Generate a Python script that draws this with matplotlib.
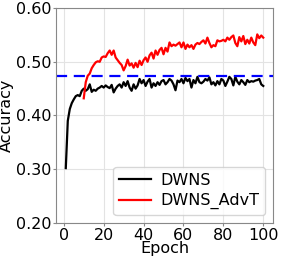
import numpy as np
import matplotlib
matplotlib.use("Agg")
import matplotlib.pyplot as plt

epochs = list(range(1, 101))
dwns = [0.302, 0.390, 0.412, 0.423, 0.430, 0.436, 0.438, 0.436, 0.446, 0.450,
        0.446, 0.449, 0.458, 0.444, 0.448, 0.446, 0.450, 0.452, 0.455, 0.452,
        0.456, 0.453, 0.451, 0.457, 0.443, 0.450, 0.455, 0.458, 0.452, 0.462,
        0.455, 0.464, 0.452, 0.446, 0.458, 0.450, 0.456, 0.468, 0.460, 0.466,
        0.455, 0.463, 0.468, 0.452, 0.460, 0.455, 0.462, 0.457, 0.464, 0.466,
        0.458, 0.462, 0.468, 0.465, 0.458, 0.447, 0.465, 0.462, 0.468, 0.460,
        0.470, 0.464, 0.468, 0.452, 0.466, 0.460, 0.472, 0.462, 0.460, 0.463,
        0.468, 0.465, 0.471, 0.458, 0.462, 0.456, 0.464, 0.458, 0.468, 0.465,
        0.455, 0.463, 0.472, 0.468, 0.456, 0.472, 0.463, 0.458, 0.466, 0.462,
        0.457, 0.466, 0.462, 0.464, 0.463, 0.465, 0.466, 0.468, 0.458, 0.455]

epochs_advt = list(range(10, 101))
dwns_advt = [0.432, 0.462, 0.474, 0.478, 0.488, 0.494, 0.499, 0.501, 0.500, 0.508,
             0.510, 0.509, 0.516, 0.521, 0.513, 0.521, 0.508, 0.503, 0.498, 0.494,
             0.484, 0.492, 0.504, 0.493, 0.497, 0.489, 0.498, 0.490, 0.502, 0.494,
             0.503, 0.508, 0.500, 0.512, 0.517, 0.506, 0.521, 0.513, 0.522, 0.526,
             0.514, 0.526, 0.519, 0.536, 0.529, 0.532, 0.530, 0.533, 0.536, 0.527,
             0.536, 0.524, 0.532, 0.527, 0.531, 0.524, 0.532, 0.535, 0.533, 0.537,
             0.540, 0.534, 0.545, 0.535, 0.527, 0.531, 0.529, 0.540, 0.538, 0.539,
             0.541, 0.538, 0.545, 0.541, 0.546, 0.549, 0.535, 0.529, 0.546, 0.538,
             0.548, 0.533, 0.541, 0.534, 0.545, 0.536, 0.531, 0.551, 0.544, 0.549,
             0.545]

baseline = 0.474  # dashed reference level

fig = plt.figure(figsize=(2.81, 2.61), dpi=100)
ax = fig.add_axes([0.199, 0.146, 0.773, 0.823])

ax.plot(epochs, dwns, color="black", lw=1.6, label="DWNS")
ax.plot(epochs_advt, dwns_advt, color="red", lw=1.6, label="DWNS_AdvT")
ax.axhline(baseline, color="blue", lw=1.6, ls=(0, (5, 3)))

ax.set_ylim(0.2, 0.6)
ax.set_yticks([0.2, 0.3, 0.4, 0.5, 0.6])
ax.set_yticklabels(["0.20", "0.30", "0.40", "0.50", "0.60"])
ax.set_xticks([0, 20, 40, 60, 80, 100])
ax.grid(True, color="#e3e3e3", lw=0.8)
for s in ax.spines.values():
    s.set_color("#888888")
ax.tick_params(labelsize=11.5, length=2.5, color="#888888", pad=1)
ax.set_xlabel("Epoch", fontsize=11.5, labelpad=-1)
ax.set_ylabel("Accuracy", fontsize=11.5, labelpad=1)
ax.legend(loc="lower right", fontsize=11.5, handlelength=2.0, borderpad=0.35,
          handletextpad=0.6, labelspacing=0.35)

fig.savefig("out.png", dpi=100)
